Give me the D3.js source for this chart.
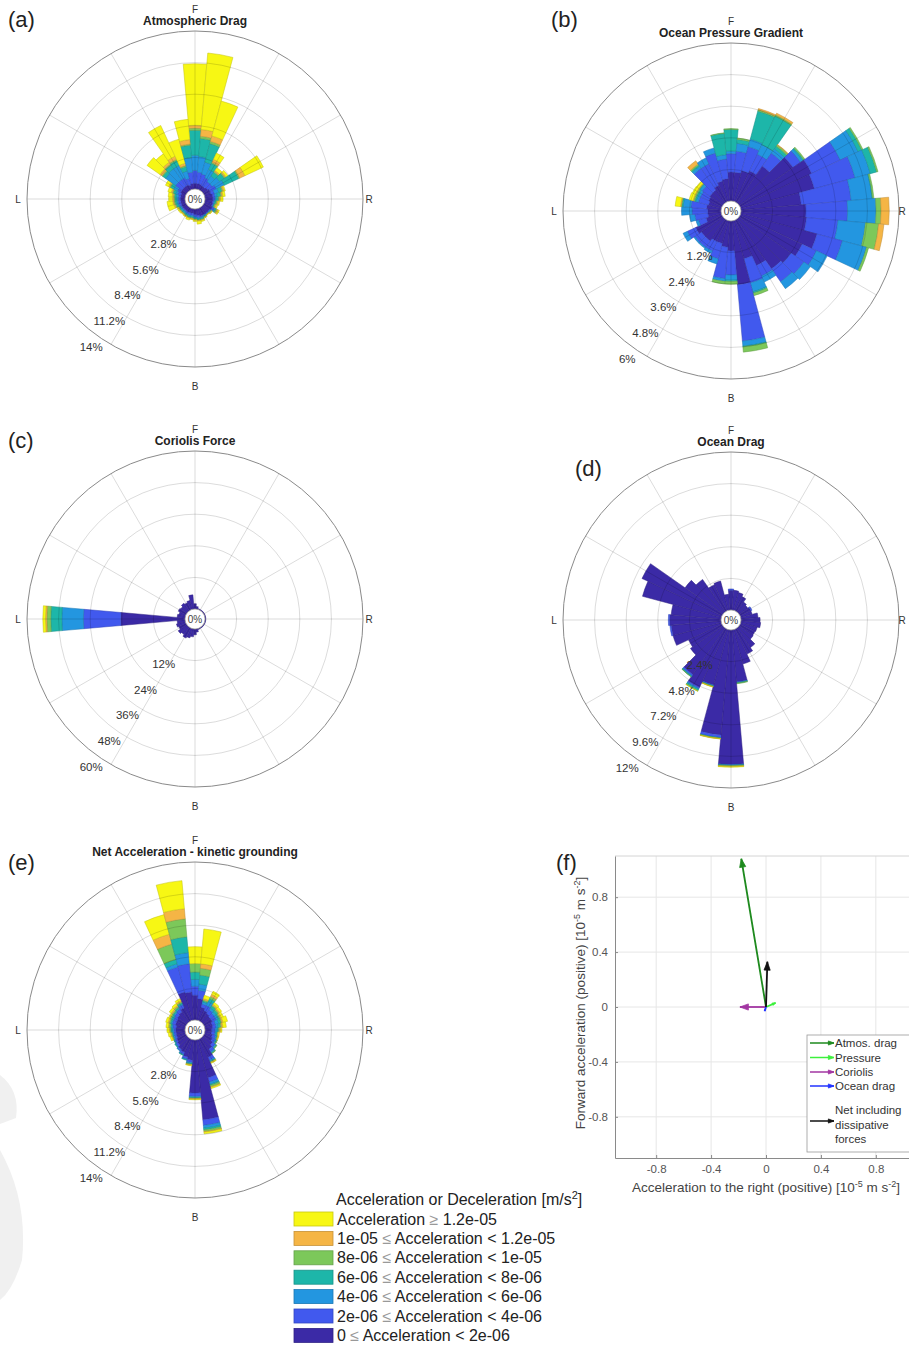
<!DOCTYPE html>
<html><head><meta charset="utf-8">
<script src="https://cdn.jsdelivr.net/npm/d3@7"></script>
<style>
body{margin:0;background:#fff}
svg{display:block}
text{font-family:"Liberation Sans",Arial,Helvetica,sans-serif}
</style>
</head><body>
<svg id="c" width="909" height="1347"></svg>
<script>
// ---------- DATA ----------
// class colours, from lowest (0 <= a < 2e-6) to highest (a >= 1.2e-5)
const classColors = ["#3B2AA6","#4159EE","#2396E0","#1DB6A9","#7CC85A","#F5B545","#F7F714"];
// legend rows, top to bottom: [prefix, relation, suffix, class index]
const legendRows = [
  ["Acceleration ", "\u2265", " 1.2e-05", 6],
  ["1e-05 ", "\u2264", " Acceleration < 1.2e-05", 5],
  ["8e-06 ", "\u2264", " Acceleration < 1e-05", 4],
  ["6e-06 ", "\u2264", " Acceleration < 8e-06", 3],
  ["4e-06 ", "\u2264", " Acceleration < 6e-06", 2],
  ["2e-06 ", "\u2264", " Acceleration < 4e-06", 1],
  ["0 ", "\u2264", " Acceleration < 2e-06", 0]
];
// direction sectors (deg clockwise from forward), 10 deg wide
const sectorAngles = d3.range(0, 360, 10);
// cumulative frequency (%) per sector, by acceleration class (lowest first)
const atmDrag = [
[0.5,1.65,3.0,5.2,5.4,5.65,11.1],[0.5,1.5,2.9,4.5,4.7,5.3,12.1],[0.5,1.4,2.5,4.2,4.4,4.9,8.1],
[0.4,1.2,2.0,2.6,2.7,3.0,3.6],[0.4,1.0,1.6,2.0,2.1,2.2,2.5],[0.5,1.0,1.8,2.3,2.4,2.5,2.7],
[0.6,1.2,2.0,3.4,3.5,4.0,5.8],[0.6,0.9,1.3,1.6,1.7,1.8,1.9],[0.7,0.9,1.1,1.4,1.5,1.6,1.8],
[0.7,0.9,1.0,1.2,1.3,1.4,1.6],[0.7,0.8,0.9,1.0,1.1,1.2,1.3],[0.7,0.8,0.85,0.9,1.0,1.1,1.2],
[0.8,1.0,1.1,1.2,1.3,1.4,1.5],[0.7,0.75,0.8,0.85,0.9,0.95,1.0],[0.7,0.75,0.8,0.82,0.84,0.86,0.9],
[0.7,0.75,0.8,0.9,0.92,0.95,1.0],[0.7,0.8,0.9,1.0,1.05,1.1,1.2],[0.6,0.8,0.9,1.0,1.05,1.1,1.35],
[0.5,0.7,0.8,0.9,0.95,1.0,1.1],[0.4,0.6,0.7,0.8,0.85,0.9,0.95],[0.4,0.6,0.7,0.8,0.85,0.9,1.05],
[0.4,0.55,0.65,0.75,0.8,0.85,0.9],[0.4,0.5,0.6,0.7,0.75,0.8,0.85],[0.4,0.5,0.6,0.7,0.75,0.8,0.9],
[0.4,0.5,0.6,0.7,0.75,0.8,0.9],[0.4,0.6,0.7,0.85,0.95,1.05,1.6],[0.4,0.6,0.75,0.9,1.0,1.1,1.6],
[0.4,0.6,0.75,0.9,1.0,1.1,1.45],[0.4,0.6,0.8,0.95,1.05,1.15,1.5],[0.4,0.7,0.9,1.1,1.2,1.3,1.6],
[0.5,0.8,1.2,1.5,1.6,1.7,2.0],[0.5,1.2,2.3,2.6,2.7,2.9,4.3],[0.5,1.2,2.4,2.8,2.9,3.1,4.0],
[0.5,1.2,2.4,2.9,3.0,3.3,6.3],[0.4,1.0,1.7,2.1,2.2,2.4,4.6],[0.5,1.5,2.8,3.9,4.0,4.4,6.2]
];
const pressureGrad = [
[1.1,1.8,1.9,2.72,2.75],[1.1,1.9,2.2,2.35,2.4],[1.2,2.15,2.45,3.55,3.6,3.65],
[1.3,2.0,2.4,3.6,3.65,3.72],[1.7,2.3,2.5,2.62,2.68,2.7],[2.5,2.85,2.95,3.0,3.05],
[3.0,4.2,4.95,5.1,5.15],[2.9,4.5,5.1,5.35,5.4],[2.3,4.2,5.0,5.02,5.07],
[2.47,4.05,5.13,5.13,5.32,5.63],[2.5,3.7,4.75,4.75,5.25,5.45],[3.0,4.0,4.95,4.95,5.03],
[2.6,3.2,3.65],[2.4,3.0,3.3],[2.3,2.9,3.22],
[1.9,2.35,2.6],[1.5,2.45,2.8,2.85,2.95],[2.43,4.58,4.77,4.8,5.0],
[1.14,2.05,2.25,2.3,2.4],[1.0,2.2,2.3,2.3,2.4],[0.9,1.5,1.7],
[0.9,1.3,1.4],[1.0,1.3,1.35],[1.0,1.3,1.35],
[1.1,1.45,1.63],[0.6,0.9,1.0],[0.5,1.0,1.2],
[0.5,1.1,1.5],[0.55,1.15,1.45,1.5,1.52,1.55,1.75],[0.5,0.9,1.0,1.05,1.1,1.12,1.27],
[0.55,0.9,1.0,1.05,1.1,1.12,1.24],[0.6,0.95,1.05,1.08,1.1,1.12,1.22],[0.6,1.6,1.7,1.75,1.8,1.95],
[0.7,1.6,1.85],[0.8,1.9,2.1],[0.85,1.6,1.77,2.58,2.6]
];
const coriolis = [
[2.0],[1.0],[0.3],[0.3],[0.3],[0.3],[0.3],[0.3],[0.3],[0.3],[0.3],[0.3],
[0.3],[0.3],[0.3],[0.3],[0.4],[1.2],[2.2],[3.0],[3.6],[4.2],[3.4],[4.0],
[3.0],[3.5],[3.0],[24.4,38.6,46.8,51.0,52.5,53.0,54.0],[3.0],[2.5],[3.2],[2.8],[3.5],[3.0],[3.5],[5.4]
];
const oceanDrag = [
[1.5,1.6],[1.5],[1.4],[1.2],[0.9],[0.8],
[0.9,1.0],[0.9],[1.3],[1.45],[1.5],[1.3],
[1.25],[1.3],[1.8],[2.1],[2.7],[3.95,4.0,4.02,4.05,4.1],
[10.2,10.25,10.28,10.3,10.35,10.38,10.42],[8.0,8.2,8.23,8.25,8.28,8.3,8.32],[4.35,4.4,4.42,4.45,4.48,4.5,4.52],
[4.9,5.0,5.05,5.15,5.2,5.2,5.22],[4.3,4.4,4.45,4.5,4.52],[3.0],
[2.8],[3.8],[3.8,3.9],[3.9,4.0],[3.8],[6.2],
[6.7],[3.5],[3.0],[2.2],[2.3],[1.2]
];
const netAccel = [
[2.2,3.0,3.6,4.25,5.0,5.0,6.5],[1.9,2.65,3.2,4.0,4.6,5.0,8.1],[1.2,1.5,1.7,1.8,1.9,2.0,2.3],
[1.0,1.5,1.9,2.2,2.4,2.6,2.9],[0.9,1.3,1.5,1.7,1.8,1.9,2.1],[0.8,1.2,1.4,1.6,1.7,1.8,2.0],
[0.8,1.2,1.4,1.5,1.6,1.7,1.9],[0.7,1.0,1.3,1.5,1.6,1.7,2.1],[0.7,1.0,1.2,1.4,1.5,1.6,1.9],
[0.6,0.9,1.1,1.2,1.3,1.4,1.5],[0.6,0.9,1.0,1.1,1.15,1.2,1.3],[0.7,1.0,1.1,1.15,1.2,1.25,1.3],
[0.8,1.1,1.2,1.25,1.3],[1.0,1.3,1.4,1.45,1.5],[1.2,1.5,1.6,1.65,1.7],
[1.8,2.1,2.2,2.25,2.3,2.35,2.4],[3.5,3.9,4.1,4.2,4.35,4.4,4.5],[7.1,7.6,7.85,8.0,8.15,8.2,8.35],
[4.7,5.0,5.1,5.15,5.2,5.25,5.3],[1.8,2.0,2.1,2.15,2.2,2.25,2.3],[1.6,1.8,1.85,1.9],
[1.3,1.5,1.55,1.6],[1.2,1.35,1.4],[1.0,1.2,1.25,1.3],
[0.9,1.1,1.15,1.2],[0.8,1.0,1.1,1.15,1.2,1.25,1.4],[0.8,1.0,1.1,1.15,1.25,1.3,1.5],
[0.8,1.0,1.15,1.25,1.35,1.4,1.6],[0.8,1.1,1.2,1.3,1.45,1.5,1.7],[0.9,1.2,1.3,1.4,1.5,1.6,1.8],
[0.9,1.2,1.3,1.45,1.55,1.6,1.7],[1.0,1.3,1.4,1.5,1.6,1.7,1.9],[1.1,1.4,1.5,1.6,1.7,1.8,2.0],
[1.3,1.6,1.7,1.8,1.9,2.0,2.2],[2.6,4.9,5.2,5.6,7.0,7.9,9.7],[2.5,5.0,6.0,7.4,9.0,9.9,12.4]
];
const ticksA = [2.8,5.6,8.4,11.2,14];
const ticksB = [1.2,2.4,3.6,4.8,6];
const ticksC = [12,24,36,48,60];
const ticksD = [2.4,4.8,7.2,9.6,12];
const dirLabels = ["F","R","B","L"];

// panel (f) quiver
const forceNames = ["Atmos. drag","Pressure","Coriolis","Ocean drag","Net including|dissipative|forces"];
const forceU = [-0.18, 0.07, -0.19, -0.01, 0.01];
const forceV = [1.08, 0.03, 0.0, -0.03, 0.33];
const forceColors = ["#1E8A1E","#3CF03C","#A236A2","#2233FF","#111111"];
const fTicks = [-0.8,-0.4,0,0.4,0.8];

// ---------- DRAW ----------
const svg = d3.select("#c");
const R = 168, HOLE = 10;

// faint grey marks at left edge
svg.append("path").attr("d","M0,1075 Q20,1090 16,1118 L0,1124 Z").attr("fill","#f0f0f0");
svg.append("path").attr("d","M0,1150 Q28,1200 22,1260 Q13,1290 0,1300 Z").attr("fill","#f0f0f0");

const panels = [
  {tag:"(a)", tx:8, ty:27, title:"Atmospheric Drag", cx:195, cy:199, ticks:ticksA, data:atmDrag},
  {tag:"(b)", tx:551, ty:27, title:"Ocean Pressure Gradient", cx:731, cy:211, ticks:ticksB, data:pressureGrad},
  {tag:"(c)", tx:8, ty:448, title:"Coriolis Force", cx:195, cy:619, ticks:ticksC, data:coriolis},
  {tag:"(d)", tx:575, ty:476, title:"Ocean Drag", cx:731, cy:620, ticks:ticksD, data:oceanDrag},
  {tag:"(e)", tx:8, ty:870, title:"Net Acceleration - kinetic grounding", cx:195, cy:1030, ticks:ticksA, data:netAccel}
];

const arc = d3.arc();
const hw = 5 * Math.PI / 180;

panels.forEach(p => {
  const g = svg.append("g").attr("transform", `translate(${p.cx},${p.cy})`);
  const r = d3.scaleLinear().domain([0, d3.max(p.ticks)]).range([HOLE, R]);
  // bars
  p.data.forEach((cum, i) => {
    const a = sectorAngles[i] * Math.PI / 180;
    let prev = 0;
    cum.forEach((v, k) => {
      if (v > prev) {
        g.append("path")
          .attr("d", arc({innerRadius: r(prev), outerRadius: r(v), startAngle: a - hw, endAngle: a + hw}))
          .attr("fill", classColors[k])
          .attr("stroke", d3.color(classColors[k]).darker(0.7))
          .attr("stroke-width", 0.5);
        prev = v;
      }
    });
  });
  // grid on top
  p.ticks.slice(0, -1).forEach(t => {
    g.append("circle").attr("r", r(t)).attr("fill", "none")
      .attr("stroke", "rgba(0,0,0,0.14)").attr("stroke-width", 1);
  });
  d3.range(0, 360, 30).forEach(d => {
    const a = d * Math.PI / 180;
    g.append("line")
      .attr("x1", HOLE * Math.sin(a)).attr("y1", -HOLE * Math.cos(a))
      .attr("x2", R * Math.sin(a)).attr("y2", -R * Math.cos(a))
      .attr("stroke", "rgba(0,0,0,0.14)").attr("stroke-width", 1);
  });
  g.append("circle").attr("r", R).attr("fill", "none").attr("stroke", "#8a8a8a").attr("stroke-width", 1);
  // hole
  g.append("circle").attr("r", HOLE).attr("fill", "#fff").attr("stroke", "#9a9a9a").attr("stroke-width", 0.8);
  g.append("text").attr("x", 0).attr("y", 4).attr("text-anchor", "middle")
    .attr("font-size", 10).attr("fill", "#444").text("0%");
  // radial tick labels
  const la = 215 * Math.PI / 180;
  p.ticks.forEach(t => {
    const rr = r(t) + 13;
    g.append("text").attr("x", rr * Math.sin(la)).attr("y", -rr * Math.cos(la) + 4)
      .attr("text-anchor", "middle").attr("font-size", 11.5).attr("fill", "#333")
      .text(t + "%");
  });
  // direction labels
  const rx = Math.min(174, 902 - p.cx);
  g.append("text").attr("x", 0).attr("y", -186).attr("text-anchor", "middle").attr("font-size", 10).attr("fill", "#333").text(dirLabels[0]);
  g.append("text").attr("x", rx).attr("y", 4).attr("text-anchor", "middle").attr("font-size", 10).attr("fill", "#333").text(dirLabels[1]);
  g.append("text").attr("x", 0).attr("y", 191).attr("text-anchor", "middle").attr("font-size", 10).attr("fill", "#333").text(dirLabels[2]);
  g.append("text").attr("x", -177).attr("y", 4).attr("text-anchor", "middle").attr("font-size", 10).attr("fill", "#333").text(dirLabels[3]);
  // title
  g.append("text").attr("x", 0).attr("y", -174).attr("text-anchor", "middle")
    .attr("font-size", 12).attr("font-weight", "bold").attr("fill", "#222").text(p.title);
  // panel tag
  svg.append("text").attr("x", p.tx).attr("y", p.ty).attr("font-size", 22).attr("fill", "#222").text(p.tag);
});
svg.append("text").attr("x", 556).attr("y", 870).attr("font-size", 22).attr("fill", "#222").text("(f)");

// ---------- legend (bottom) ----------
const lg = svg.append("g");
const lt = lg.append("text").attr("x", 336).attr("y", 1205).attr("font-size", 16).attr("fill", "#222");
lt.append("tspan").text("Acceleration or Deceleration [m/s");
lt.append("tspan").attr("font-size", 11).attr("dy", -6).text("2");
lt.append("tspan").attr("dy", 6).text("]");
legendRows.forEach((row, i) => {
  const y = 1212 + i * 19.4;
  lg.append("rect").attr("x", 294).attr("y", y).attr("width", 39).attr("height", 14)
    .attr("fill", classColors[row[3]]).attr("stroke", d3.color(classColors[row[3]]).darker(0.6)).attr("stroke-width", 0.8);
  const t = lg.append("text").attr("x", 337).attr("y", y + 12.5).attr("font-size", 16).attr("fill", "#222");
  t.append("tspan").text(row[0]);
  t.append("tspan").attr("fill", "#999").text(row[1]);
  t.append("tspan").text(row[2]);
});

// ---------- panel (f) quiver ----------
const fx = d3.scaleLinear().domain([-1.1, 1.1]).range([615, 917]);
const fy = d3.scaleLinear().domain([-1.1, 1.1]).range([1158, 856]);
const fg = svg.append("g");
fTicks.forEach(t => {
  fg.append("line").attr("x1", fx(t)).attr("x2", fx(t)).attr("y1", fy(-1.1)).attr("y2", fy(1.1)).attr("stroke", "#e6e6e6");
  fg.append("line").attr("y1", fy(t)).attr("y2", fy(t)).attr("x1", fx(-1.1)).attr("x2", fx(1.1)).attr("stroke", "#e6e6e6");
});
fg.append("line").attr("x1", fx(-1.1)).attr("x2", fx(1.1)).attr("y1", fy(1.1)).attr("y2", fy(1.1)).attr("stroke", "#d4d4d4");
fg.append("line").attr("x1", fx(1.1)).attr("x2", fx(1.1)).attr("y1", fy(-1.1)).attr("y2", fy(1.1)).attr("stroke", "#d4d4d4");
const xAxis = fg.append("g").attr("transform", `translate(0,${fy(-1.1)})`)
  .call(d3.axisBottom(fx).tickValues(fTicks).tickFormat(d => String(d)).tickSizeInner(-3).tickSizeOuter(0).tickPadding(7));
const yAxis = fg.append("g").attr("transform", `translate(${fx(-1.1)},0)`)
  .call(d3.axisLeft(fy).tickValues(fTicks).tickFormat(d => String(d)).tickSizeInner(-3).tickSizeOuter(0).tickPadding(7));
[xAxis, yAxis].forEach(ax => {
  ax.select(".domain").attr("stroke", "#8a8a8a");
  ax.selectAll(".tick line").attr("stroke", "#8a8a8a");
  ax.selectAll("text").attr("font-size", 11.5).attr("fill", "#555").attr("font-family", "Liberation Sans, Arial, sans-serif");
});
// axis labels
const xl = fg.append("text").attr("x", 766).attr("y", 1192).attr("text-anchor", "middle").attr("font-size", 13.5).attr("fill", "#444");
xl.append("tspan").text("Acceleration to the right (positive) [10");
xl.append("tspan").attr("font-size", 9).attr("dy", -5).text("-5");
xl.append("tspan").attr("dy", 5).text(" m s");
xl.append("tspan").attr("font-size", 9).attr("dy", -5).text("-2");
xl.append("tspan").attr("dy", 5).text("]");
const yl = fg.append("text").attr("transform", "translate(585,1003) rotate(-90)").attr("text-anchor", "middle").attr("font-size", 13.5).attr("fill", "#444");
yl.append("tspan").text("Forward acceleration (positive) [10");
yl.append("tspan").attr("font-size", 9).attr("dy", -5).text("-5");
yl.append("tspan").attr("dy", 5).text(" m s");
yl.append("tspan").attr("font-size", 9).attr("dy", -5).text("-2");
yl.append("tspan").attr("dy", 5).text("]");

function arrow(g, x1, y1, x2, y2, col, w, head) {
  g.append("line").attr("x1", x1).attr("y1", y1).attr("x2", x2).attr("y2", y2)
    .attr("stroke", col).attr("stroke-width", w);
  const len = Math.hypot(x2 - x1, y2 - y1);
  if (len < 0.5) return;
  const ang = Math.atan2(y2 - y1, x2 - x1);
  const h = Math.min(head, len * 0.35);
  const a1 = ang + Math.PI - 0.35, a2 = ang + Math.PI + 0.35;
  g.append("path")
    .attr("d", `M${x2},${y2} L${x2 + h * Math.cos(a1)},${y2 + h * Math.sin(a1)} L${x2 + h * Math.cos(a2)},${y2 + h * Math.sin(a2)} Z`)
    .attr("fill", col).attr("stroke", col).attr("stroke-width", 0.8);
}
forceU.forEach((u, i) => {
  arrow(fg, fx(0), fy(0), fx(u), fy(forceV[i]), forceColors[i], 1.8, 9);
});
// legend box in (f)
const flg = fg.append("g");
flg.append("rect").attr("x", 807).attr("y", 1035).attr("width", 110).attr("height", 117)
  .attr("fill", "#fff").attr("stroke", "#999").attr("stroke-width", 0.8);
const legY = [1043, 1057.5, 1072, 1086, 1121];
forceNames.forEach((n, i) => {
  arrow(flg, 810, legY[i], 834, legY[i], forceColors[i], 1.5, 6);
  const parts = n.split("|");
  parts.forEach((s, j) => {
    const yy = parts.length > 1 ? 1114 + j * 14.5 : legY[i] + 4;
    flg.append("text").attr("x", 835).attr("y", yy).attr("font-size", 11.5).attr("fill", "#333").text(s);
  });
});
</script>
</body></html>
